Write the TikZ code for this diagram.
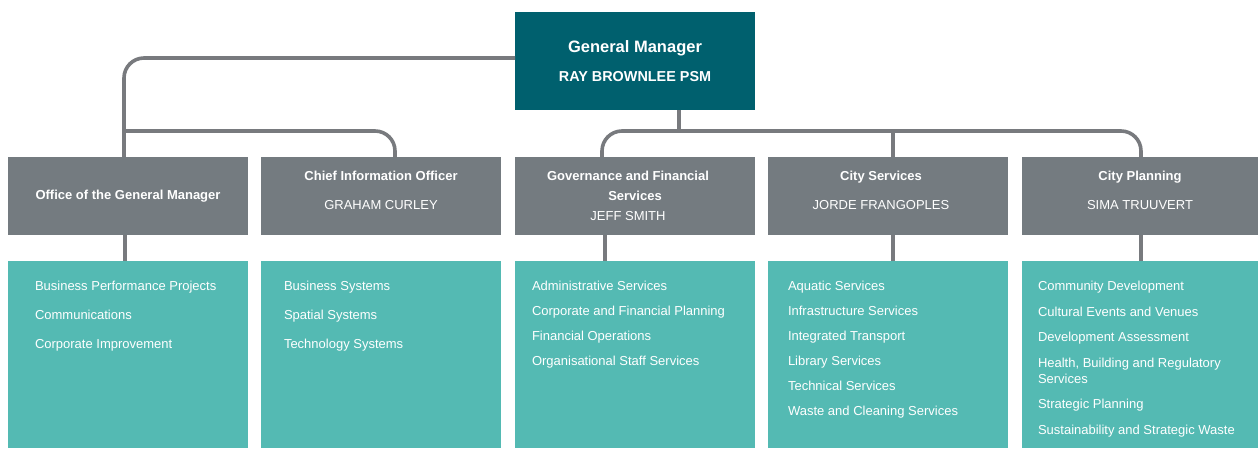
\documentclass[tikz,border=0pt]{standalone}
\usepackage{fontspec}
\setmainfont{Liberation Sans}
\usetikzlibrary{positioning}
\definecolor{gmteal}{RGB}{0,96,110}
\definecolor{unitgrey}{RGB}{116,123,128}
\definecolor{listteal}{RGB}{84,186,179}
\definecolor{linkgrey}{RGB}{120,122,126}
% pushes a two line label a bit upwards in its box
\newcommand{\extradepth}{\rule[-11pt]{0pt}{11pt}}
% pushes a label a bit to the left in its box
\newcommand{\padright}{\hspace*{14pt}}
\tikzset{% 
	head_box/.style={fill=gmteal,text=white,minimum width=240pt,minimum height=98pt,inner sep=0pt,outer sep=0pt,align=center,font=\bfseries\fontsize{14.4}{29}\selectfont}
}
\tikzset{% 
	unit_box/.style={fill=unitgrey,text=white,minimum width=240pt,minimum height=78pt,inner sep=0pt,outer sep=0pt,align=center,font=\fontsize{13}{20}\selectfont}
}
\tikzset{% 
	list_box/.style={fill=listteal,minimum width=240pt,minimum height=187pt,inner sep=0pt,outer sep=0pt}
}
\tikzset{% 
	list_text/.style={text=white,anchor=north west,inner sep=0pt,outer sep=0pt,align=left,font=\fontsize{13}{25}\selectfont}
}
\tikzset{% 
	link/.style={draw=linkgrey,line width=3.6pt}
}

\begin{document}
\begin{tikzpicture}[x=1pt,y=-1pt]
		\useasboundingbox (0,0) rectangle (1258,448);

		%General manager
		\node [head_box,anchor=north west] (gm) at (515,12) {{\fontsize{16.5}{29}\selectfont General Manager}\\RAY BROWNLEE PSM};

		%Units
		\node [unit_box,anchor=north west] (ogm) at (8,157) {\textbf{Office of the General Manager}};
		\node [unit_box,right=13pt of ogm] (cio) {\textbf{Chief Information Officer}\\[9pt]GRAHAM CURLEY\extradepth};
		\node [unit_box,right=14pt of cio] (gfs) {\textbf{Governance and Financial}\padright\\\textbf{Services}\padright\\JEFF SMITH\padright};
		\node [unit_box,right=13pt of gfs] (cs) {\textbf{City Services}\padright\\[9pt]JORDE FRANGOPLES\padright\extradepth};
		\node [unit_box,right=14pt of cs,minimum width=236pt] (cp) {\textbf{City Planning}\\[9pt]SIMA TRUUVERT\extradepth};

		%Lists
		\node [list_box,below=26pt of ogm] (ogmlist) {};
		\node [list_box,below=26pt of cio] (ciolist) {};
		\node [list_box,below=26pt of gfs] (gfslist) {};
		\node [list_box,below=26pt of cs] (cslist) {};
		\node [list_box,below=26pt of cp,minimum width=236pt] (cplist) {};

		\node [list_text,font=\fontsize{13}{29}\selectfont] (ogmitems) at ([shift={(27,20.5)}]ogmlist.north west) {Business Performance Projects\\Communications\\Corporate Improvement};
		\node [list_text,font=\fontsize{13}{29}\selectfont] (cioitems) at ([shift={(23,20.5)}]ciolist.north west) {Business Systems\\Spatial Systems\\Technology Systems};
		\node [list_text] (gfsitems) at ([shift={(17,20.5)}]gfslist.north west) {Administrative Services\\Corporate and Financial Planning\\Financial Operations\\Organisational Staff Services};
		\node [list_text] (csitems) at ([shift={(20,20.5)}]cslist.north west) {Aquatic Services\\Infrastructure Services\\Integrated Transport\\Library Services\\Technical Services\\Waste and Cleaning Services};
		\node [list_text,font=\fontsize{13}{16}\selectfont] (cpitems) at ([shift={(16,20.5)}]cplist.north west) {Community Development\\[9.5pt]Cultural Events and Venues\\[9.5pt]Development Assessment\\[9.5pt]Health, Building and Regulatory\\Services\\[9.5pt]Strategic Planning\\[9.5pt]Sustainability and Strategic Waste};

		%Left branch
		\draw [link,rounded corners=20pt] ([yshift=3pt]gm.west) -| ([xshift=-4pt]ogm.north);
		\draw [link,rounded corners=20pt] ([xshift=-4pt,yshift=26pt]ogm.north) -| ([xshift=14pt]cio.north);

		%Right branch
		\coordinate (hub) at ([xshift=44pt,yshift=-21pt]gm.south);
		\draw [link] ([xshift=44pt]gm.south) -- (hub);
		\draw [link,rounded corners=20pt] ([xshift=-33pt]gfs.north) |- (hub) -| ([xshift=1pt]cp.north);
		\coordinate (cs_in) at ([xshift=5pt]cs.north);
		\draw [link] (cs_in) -- (cs_in |- hub);

		%Unit to list
		\draw [link] ([xshift=-3pt]ogm.south) -- ([xshift=-3pt]ogmlist.north);
		\draw [link] ([xshift=-30pt]gfs.south) -- ([xshift=-30pt]gfslist.north);
		\draw [link] ([xshift=5pt]cs.south) -- ([xshift=5pt]cslist.north);
		\draw [link] ([xshift=1pt]cp.south) -- ([xshift=1pt]cplist.north);

	\end{tikzpicture}
\end{document}
